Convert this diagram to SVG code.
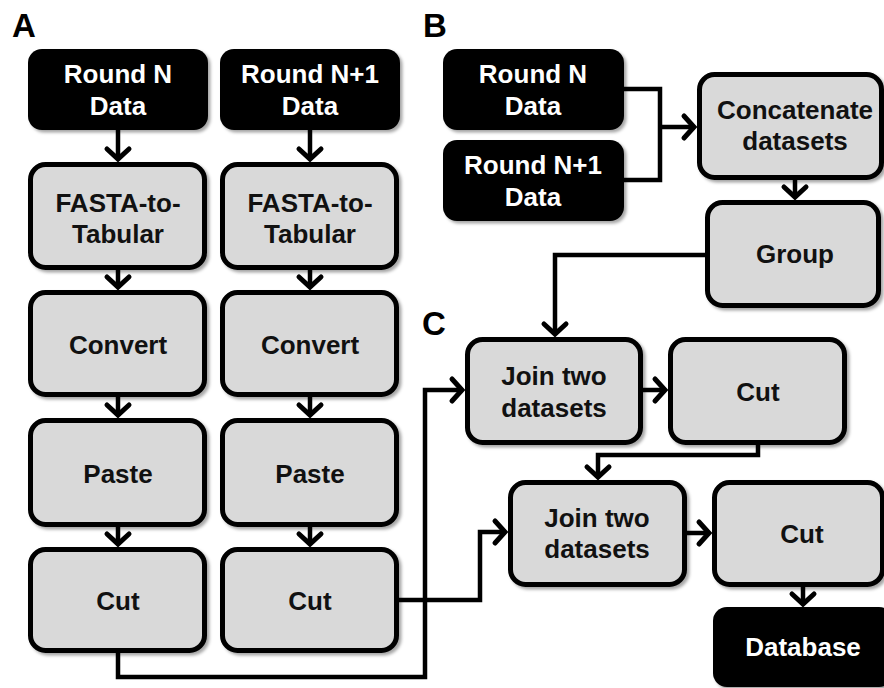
<svg xmlns="http://www.w3.org/2000/svg" width="884" height="688" viewBox="0 0 884 688">
  <defs>
    <filter id="shadow" x="-10%" y="-10%" width="130%" height="130%">
      <feDropShadow dx="2.5" dy="2.5" stdDeviation="1.8" flood-color="#000" flood-opacity="0.35"/>
    </filter>
    <marker id="arrow" markerUnits="userSpaceOnUse" markerWidth="30" markerHeight="30" viewBox="-16 -15 20 30" refX="0" refY="0" orient="auto">
      <path d="M-11,-11 L-1,0 L-11,11" fill="none" stroke="#000" stroke-width="5" stroke-linecap="round" stroke-linejoin="miter"/>
    </marker>
    <style>
      .step { fill: #d9d9d9; stroke: #000; stroke-width: 5; filter: url(#shadow); }
      .data { fill: #000; filter: url(#shadow); }
      .lbl { font-family: "Liberation Sans", Arial, sans-serif; font-weight: bold; font-size: 26px; text-anchor: middle; }
      .dark { fill: #111; }
      .light { fill: #fff; }
      .panel { font-family: "Liberation Sans", Arial, sans-serif; font-weight: bold; font-size: 33px; fill: #000; }
      .wire { fill: none; stroke: #000; stroke-width: 4.5; stroke-linejoin: miter; }
      .arr { marker-end: url(#arrow); }
    </style>
  </defs>

  <!-- panel letters -->
  <text class="panel" x="12" y="37">A</text>
  <text class="panel" x="423" y="37">B</text>
  <text class="panel" x="422" y="335">C</text>

  <!-- connectors -->
  <g id="connectors">
    <!-- panel A, left column -->
    <path class="wire arr" d="M118,130 V160"/>
    <path class="wire arr" d="M118,270 V288"/>
    <path class="wire arr" d="M118,397 V416"/>
    <path class="wire arr" d="M118,527 V545"/>
    <!-- panel A, right column -->
    <path class="wire arr" d="M310,130 V160"/>
    <path class="wire arr" d="M310,270 V288"/>
    <path class="wire arr" d="M310,397 V416"/>
    <path class="wire arr" d="M310,527 V545"/>
    <!-- panel A outputs into panel C -->
    <path class="wire arr" d="M118,653 V677 H425 V390 H463"/>
    <path class="wire arr" d="M399,600 H480 V532 H506"/>
    <!-- panel B -->
    <path class="wire" d="M624,89 H660 V180 H624"/>
    <path class="wire arr" d="M660,127 H695"/>
    <path class="wire arr" d="M795,180 V198"/>
    <!-- group result into first join -->
    <path class="wire arr" d="M705,255 H555 V335"/>
    <!-- panel C -->
    <path class="wire arr" d="M643,390 H666"/>
    <path class="wire arr" d="M758,445 V455 H598 V478"/>
    <path class="wire arr" d="M687,533 H710"/>
    <path class="wire arr" d="M803,587 V605"/>
  </g>

  <!-- panel A, left column -->
  <g id="a-round-n">
    <rect class="data" x="28" y="49" width="180" height="81" rx="14"/>
    <text class="lbl light" x="118" y="83">Round N</text>
    <text class="lbl light" x="118" y="115">Data</text>
  </g>
  <g id="a-fasta-1">
    <rect class="step" x="30.5" y="164.5" width="174" height="103" rx="15"/>
    <text class="lbl dark" x="118" y="212">FASTA-to-</text>
    <text class="lbl dark" x="118" y="243">Tabular</text>
  </g>
  <g id="a-convert-1">
    <rect class="step" x="30.5" y="292.5" width="174" height="102" rx="15"/>
    <text class="lbl dark" x="118" y="354">Convert</text>
  </g>
  <g id="a-paste-1">
    <rect class="step" x="30.5" y="420.5" width="174" height="104" rx="15"/>
    <text class="lbl dark" x="118" y="483">Paste</text>
  </g>
  <g id="a-cut-1">
    <rect class="step" x="30.5" y="549.5" width="174" height="101" rx="15"/>
    <text class="lbl dark" x="118" y="610">Cut</text>
  </g>

  <!-- panel A, right column -->
  <g id="a-round-n1">
    <rect class="data" x="220" y="49" width="180" height="81" rx="14"/>
    <text class="lbl light" x="310" y="83">Round N+1</text>
    <text class="lbl light" x="310" y="115">Data</text>
  </g>
  <g id="a-fasta-2">
    <rect class="step" x="222.5" y="164.5" width="174" height="103" rx="15"/>
    <text class="lbl dark" x="310" y="212">FASTA-to-</text>
    <text class="lbl dark" x="310" y="243">Tabular</text>
  </g>
  <g id="a-convert-2">
    <rect class="step" x="222.5" y="292.5" width="174" height="102" rx="15"/>
    <text class="lbl dark" x="310" y="354">Convert</text>
  </g>
  <g id="a-paste-2">
    <rect class="step" x="222.5" y="420.5" width="174" height="104" rx="15"/>
    <text class="lbl dark" x="310" y="483">Paste</text>
  </g>
  <g id="a-cut-2">
    <rect class="step" x="222.5" y="549.5" width="174" height="101" rx="15"/>
    <text class="lbl dark" x="310" y="610">Cut</text>
  </g>

  <!-- panel B -->
  <g id="b-round-n">
    <rect class="data" x="443" y="49" width="181" height="81" rx="14"/>
    <text class="lbl light" x="533" y="83">Round N</text>
    <text class="lbl light" x="533" y="115">Data</text>
  </g>
  <g id="b-round-n1">
    <rect class="data" x="443" y="140" width="181" height="81" rx="14"/>
    <text class="lbl light" x="533" y="174">Round N+1</text>
    <text class="lbl light" x="533" y="206">Data</text>
  </g>
  <g id="b-concatenate">
    <rect class="step" x="699.5" y="74.5" width="182" height="103" rx="15"/>
    <text class="lbl dark" x="795" y="119">Concatenate</text>
    <text class="lbl dark" x="795" y="150">datasets</text>
  </g>
  <g id="b-group">
    <rect class="step" x="707.5" y="202.5" width="171" height="103" rx="15"/>
    <text class="lbl dark" x="795" y="263">Group</text>
  </g>

  <!-- panel C -->
  <g id="c-join-1">
    <rect class="step" x="467.5" y="339.5" width="173" height="103" rx="15"/>
    <text class="lbl dark" x="554" y="385">Join two</text>
    <text class="lbl dark" x="554" y="417">datasets</text>
  </g>
  <g id="c-cut-1">
    <rect class="step" x="670.5" y="339.5" width="174" height="103" rx="15"/>
    <text class="lbl dark" x="758" y="401">Cut</text>
  </g>
  <g id="c-join-2">
    <rect class="step" x="510.5" y="482.5" width="174" height="102" rx="15"/>
    <text class="lbl dark" x="597" y="527">Join two</text>
    <text class="lbl dark" x="597" y="558">datasets</text>
  </g>
  <g id="c-cut-2">
    <rect class="step" x="714.5" y="482.5" width="168" height="102" rx="15"/>
    <text class="lbl dark" x="802" y="543">Cut</text>
  </g>
  <g id="c-database">
    <rect class="data" x="713" y="607" width="180" height="80" rx="14"/>
    <text class="lbl light" x="803" y="656">Database</text>
  </g>
</svg>
